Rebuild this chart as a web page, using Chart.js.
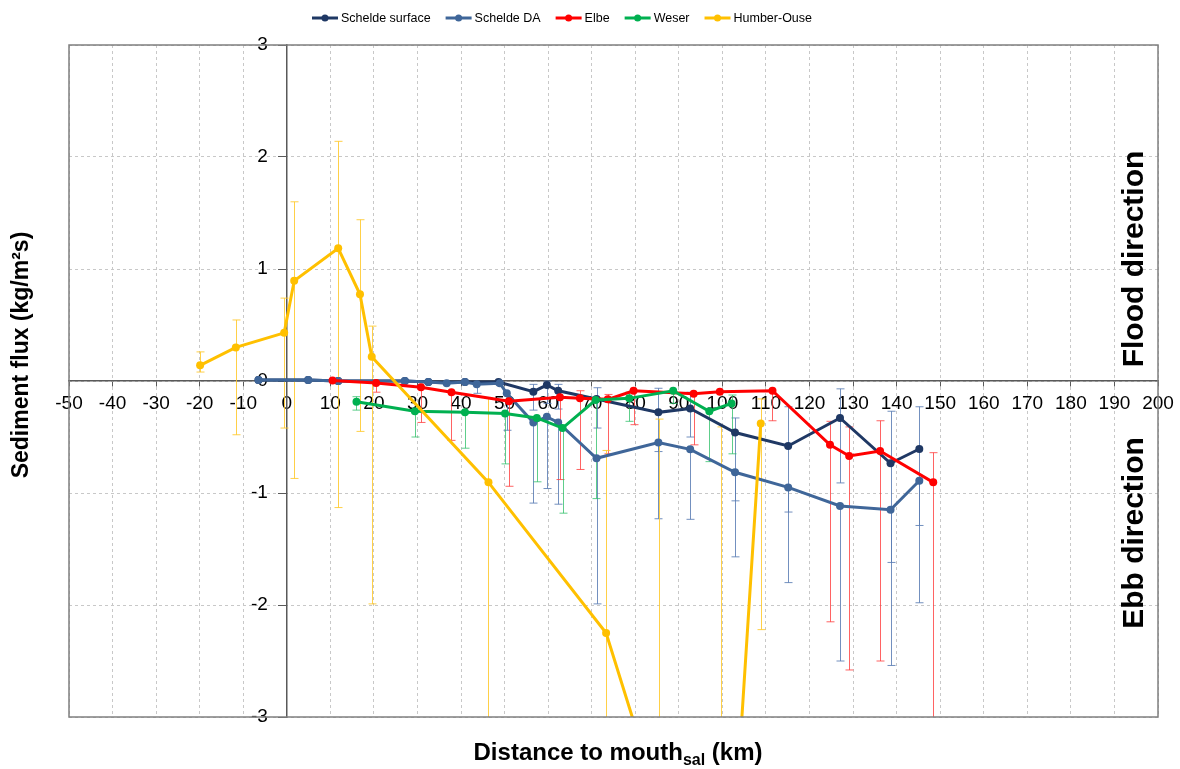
<!DOCTYPE html>
<html>
<head>
<meta charset="utf-8">
<script src="https://cdn.jsdelivr.net/npm/chart.js@4.4.1/dist/chart.umd.min.js"></script>
<style>
  html, body { margin: 0; padding: 0; background: #ffffff; }
  #wrap { width: 1180px; height: 769px; position: relative; }
</style>
</head>
<body>
<div id="wrap"><canvas id="fluxChart"></canvas></div>
<script>
// distance to mouth (km), flux (kg/m2s), error bar ends (hi / lo)
const scheldeSurfX = [-6.5, 4.9, 11.8, 27.1, 32.5, 40.9, 48.6, 56.6, 59.7, 62.3, 71.1, 85.3, 92.6, 102.9, 115.1, 127.0, 138.6, 145.2];
const scheldeSurfY = [0.01, 0.01, 0.0, 0.0, -0.01, -0.01, -0.01, -0.095, -0.036, -0.087, -0.16, -0.28, -0.245, -0.46, -0.58, -0.33, -0.735, -0.607];
const scheldeSurfHi = [0.01, 0.01, 0.0, 0.0, -0.01, -0.01, 0.0, -0.03, 0.0, -0.03, -0.06, -0.065, -0.1, -0.33, -0.23, -0.07, -0.27, -0.23];
const scheldeSurfLo = [0.01, 0.01, 0.0, 0.0, -0.01, -0.01, -0.02, -0.26, -0.2, -0.25, -0.42, -0.63, -0.5, -1.07, -1.17, -0.91, -1.62, -1.29];

const scheldeDaX = [-6.5, 4.9, 11.8, 27.1, 32.5, 36.7, 40.9, 43.6, 48.9, 50.5, 56.6, 59.7, 62.3, 71.1, 85.3, 92.6, 102.9, 115.1, 127.0, 138.6, 145.2];
const scheldeDaY = [0.01, 0.01, 0.0, 0.0, -0.01, -0.02, -0.01, -0.03, -0.02, -0.11, -0.37, -0.32, -0.37, -0.69, -0.55, -0.61, -0.815, -0.95, -1.116, -1.15, -0.89];
const scheldeDaHi = [0.01, 0.01, 0.0, 0.0, -0.01, -0.02, -0.01, -0.03, -0.02, -0.11, -0.37, -0.32, -0.37, -0.69, -0.55, -0.61, -0.815, -0.95, -1.116, -1.15, -0.89];
const scheldeDaLo = [0.01, 0.01, 0.0, 0.0, -0.01, -0.02, -0.01, -0.11, -0.02, -0.44, -1.09, -0.96, -1.1, -1.99, -1.23, -1.235, -1.57, -1.8, -2.5, -2.54, -1.98];

const elbeX = [10.5, 20.5, 30.8, 37.8, 51.0, 62.7, 67.3, 73.7, 79.6, 93.4, 99.4, 111.5, 124.7, 129.1, 136.2, 148.4];
const elbeY = [0.005, -0.017, -0.055, -0.1, -0.18, -0.146, -0.155, -0.164, -0.087, -0.113, -0.095, -0.087, -0.57, -0.67, -0.625, -0.905];
const elbeHi = [0.005, 0.0, -0.055, -0.1, -0.18, -0.146, -0.087, -0.12, -0.087, -0.113, -0.095, -0.087, -0.36, -0.41, -0.355, -0.64];
const elbeLo = [0.005, -0.1, -0.37, -0.53, -0.94, -0.88, -0.79, -0.65, -0.39, -0.57, -0.095, -0.355, -2.15, -2.58, -2.5, -3.5];

const weserX = [16.0, 29.4, 40.9, 50.1, 57.4, 63.3, 70.9, 78.6, 88.7, 97.0, 102.1];
const weserY = [-0.185, -0.27, -0.28, -0.29, -0.33, -0.42, -0.17, -0.155, -0.087, -0.27, -0.2];
const weserHi = [-0.14, -0.27, -0.28, -0.29, -0.33, -0.42, -0.17, -0.1, -0.087, -0.27, -0.125];
const weserLo = [-0.26, -0.5, -0.6, -0.74, -0.9, -1.18, -1.05, -0.36, -0.2, -0.72, -0.65];

const humberX = [-19.9, -11.7, -0.6, 1.7, 11.8, 16.8, 19.5, 46.3, 73.3, 85.4, 99.7, 108.8];
const humberY = [0.14, 0.30, 0.43, 0.895, 1.185, 0.774, 0.217, -0.905, -2.25, -3.76, -5.9, -0.38];
const humberHi = [0.26, 0.545, 0.74, 1.60, 2.14, 1.44, 0.49, -0.15, -0.62, -0.34, -0.41, -0.16];
const humberLo = [0.08, -0.48, -0.42, -0.87, -1.13, -0.45, -1.99, -3.5, -3.5, -3.5, -3.5, -2.22];

const seriesNames = ['Schelde surface', 'Schelde DA', 'Elbe', 'Weser', 'Humber-Ouse'];
const seriesColors = ['#1F3864', '#3F6699', '#FF0000', '#00B050', '#FFC000'];
const errorColors = ['rgba(90,125,180,0.85)', 'rgba(90,125,180,0.85)', 'rgba(255,60,60,0.8)', 'rgba(40,190,100,0.75)', 'rgba(255,200,40,0.85)'];

const FONT = '"Liberation Sans", Arial, sans-serif';
Chart.defaults.font.family = FONT;

function points(xs, ys, his, los) {
    return xs.map((x, i) => ({ x: x, y: ys[i], hi: his[i], lo: los[i] }));
}

const seriesData = [
    points(scheldeSurfX, scheldeSurfY, scheldeSurfHi, scheldeSurfLo),
    points(scheldeDaX, scheldeDaY, scheldeDaHi, scheldeDaLo),
    points(elbeX, elbeY, elbeHi, elbeLo),
    points(weserX, weserY, weserHi, weserLo),
    points(humberX, humberY, humberHi, humberLo)
];

// error bars, drawn under the lines
const errorBars = {
    id: 'errorBars',
    beforeDatasetsDraw(chart) {
        const { ctx, chartArea, scales: { x, y } } = chart;
        ctx.save();
        ctx.beginPath();
        ctx.rect(chartArea.left, chartArea.top, chartArea.right - chartArea.left, chartArea.bottom - chartArea.top);
        ctx.clip();
        ctx.lineWidth = 1;
        chart.data.datasets.forEach((ds, i) => {
            ctx.strokeStyle = errorColors[i];
            ds.data.forEach(p => {
                if (p.hi === p.lo) return;
                const px = Math.round(x.getPixelForValue(p.x)) + 0.5;
                const yHi = y.getPixelForValue(p.hi);
                const yLo = y.getPixelForValue(p.lo);
                const yMid = y.getPixelForValue(p.y);
                ctx.beginPath();
                ctx.moveTo(px, yHi);
                ctx.lineTo(px, yLo);
                if (Math.abs(yHi - yMid) > 1) {
                    ctx.moveTo(px - 4, yHi);
                    ctx.lineTo(px + 4, yHi);
                }
                if (Math.abs(yLo - yMid) > 1) {
                    ctx.moveTo(px - 4, yLo);
                    ctx.lineTo(px + 4, yLo);
                }
                ctx.stroke();
            });
        });
        ctx.restore();
    }
};

// plot frame, axis titles, direction labels and legend
const decorations = {
    id: 'decorations',
    afterDatasetsDraw(chart) {
        const { ctx, chartArea } = chart;
        ctx.save();
        ctx.strokeStyle = '#7F7F7F';
        ctx.lineWidth = 1.5;
        ctx.strokeRect(chartArea.left, chartArea.top, chartArea.right - chartArea.left, chartArea.bottom - chartArea.top);
        ctx.restore();
    },
    afterDraw(chart) {
        const ctx = chart.ctx;
        ctx.save();
        ctx.fillStyle = '#000000';

        // y title
        ctx.save();
        ctx.translate(22, 355);
        ctx.rotate(-Math.PI / 2);
        ctx.font = 'bold 23px ' + FONT;
        ctx.textAlign = 'center';
        ctx.textBaseline = 'middle';
        ctx.fillText('Sediment flux (kg/m\u00B2s)', 0, 0);
        ctx.restore();

        // x title with subscript
        const mainTxt = 'Distance to mouth';
        const subTxt = 'sal';
        const endTxt = ' (km)';
        ctx.textBaseline = 'alphabetic';
        ctx.textAlign = 'left';
        ctx.font = 'bold 24px ' + FONT;
        const w1 = ctx.measureText(mainTxt).width;
        const w3 = ctx.measureText(endTxt).width;
        ctx.font = 'bold 16px ' + FONT;
        const w2 = ctx.measureText(subTxt).width;
        let tx = 618 - (w1 + w2 + w3) / 2;
        const base = 760;
        ctx.font = 'bold 24px ' + FONT;
        ctx.fillText(mainTxt, tx, base);
        tx += w1;
        ctx.font = 'bold 16px ' + FONT;
        ctx.fillText(subTxt, tx, base + 5);
        tx += w2;
        ctx.font = 'bold 24px ' + FONT;
        ctx.fillText(endTxt, tx, base);

        // direction labels
        ctx.font = 'bold 30px ' + FONT;
        ctx.textAlign = 'center';
        ctx.textBaseline = 'middle';
        [['Flood direction', 259], ['Ebb direction', 533]].forEach(([t, cy]) => {
            ctx.save();
            ctx.translate(1135, cy);
            ctx.rotate(-Math.PI / 2);
            ctx.fillText(t, 0, 0);
            ctx.restore();
        });

        // legend
        ctx.font = '12.5px ' + FONT;
        ctx.textAlign = 'left';
        ctx.textBaseline = 'middle';
        const markW = 26, markGap = 3, itemGap = 15, ly = 18;
        const widths = chart.data.datasets.map(ds => markW + markGap + ctx.measureText(ds.label).width);
        const total = widths.reduce((a, b) => a + b, 0) + itemGap * (widths.length - 1);
        let lx = 562 - total / 2;
        chart.data.datasets.forEach((ds, i) => {
            ctx.strokeStyle = ds.borderColor;
            ctx.lineWidth = 3;
            ctx.beginPath();
            ctx.moveTo(lx, ly);
            ctx.lineTo(lx + markW, ly);
            ctx.stroke();
            ctx.fillStyle = ds.borderColor;
            ctx.beginPath();
            ctx.arc(lx + markW / 2, ly, 3.5, 0, Math.PI * 2);
            ctx.fill();
            ctx.fillStyle = '#000000';
            ctx.fillText(ds.label, lx + markW + markGap, ly + 0.5);
            lx += widths[i] + itemGap;
        });
        ctx.restore();
    }
};

const ctxFlux = document.getElementById('fluxChart').getContext('2d');
const fluxChart = new Chart(ctxFlux, {
    type: 'line',
    data: {
        datasets: seriesNames.map((name, i) => ({
            label: name,
            data: seriesData[i],
            borderColor: seriesColors[i],
            backgroundColor: seriesColors[i],
            borderWidth: 3,
            pointRadius: 4,
            pointHoverRadius: 5,
            pointBorderWidth: 0,
            tension: 0,
            fill: false,
            order: seriesNames.length - i
        }))
    },
    options: {
        responsive: true,
        maintainAspectRatio: false,
        animation: false,
        layout: {
            padding: { left: 69, top: 45, right: 22, bottom: 52 }
        },
        scales: {
            x: {
                type: 'linear',
                min: -50,
                max: 200,
                position: { y: 0 },
                afterFit: function(scale) { scale.height = 0; },
                ticks: {
                    stepSize: 10,
                    color: '#000000',
                    font: { size: 19 },
                    padding: 6,
                    maxRotation: 0,
                    autoSkip: false
                },
                grid: {
                    color: '#C8C8C8',
                    lineWidth: 1,
                    tickColor: '#595959',
                    tickLength: 5
                },
                border: {
                    color: '#595959',
                    width: 1.5,
                    dash: [3, 3]
                }
            },
            y: {
                type: 'linear',
                min: -3,
                max: 3,
                position: { x: 0 },
                afterFit: function(scale) { scale.width = 0; },
                ticks: {
                    stepSize: 1,
                    color: '#000000',
                    font: { size: 19 },
                    // labels sit right on the crossing axis; pad them off it
                    callback: function(value) { return value + '\u2002\u2002'; }
                },
                grid: {
                    color: '#C8C8C8',
                    lineWidth: 1,
                    tickColor: '#595959',
                    tickLength: 8
                },
                border: {
                    color: '#595959',
                    width: 1.5,
                    dash: [3, 3]
                }
            }
        },
        plugins: {
            legend: { display: false },
            tooltip: { enabled: true }
        }
    },
    plugins: [errorBars, decorations]
});
</script>
</body>
</html>
